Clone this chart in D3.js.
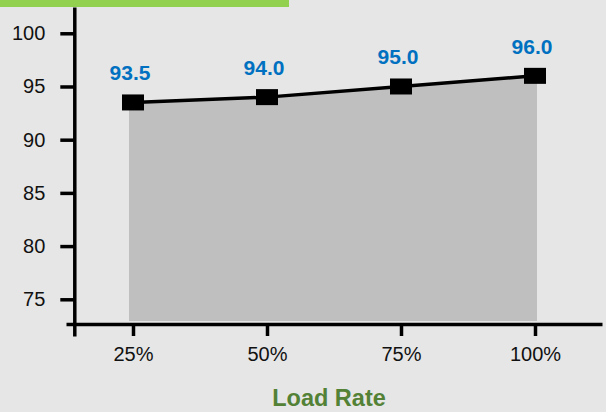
<!DOCTYPE html>
<html>
<head>
<meta charset="utf-8">
<script src="https://cdn.jsdelivr.net/npm/d3@7/dist/d3.min.js"></script>
<style>
  html, body { margin: 0; padding: 0; background: #e6e6e6; }
  svg { display: block; font-family: "Liberation Sans", Arial, sans-serif; }
</style>
</head>
<body>
<svg id="chart" width="606" height="412"></svg>
<script>
// Efficiency at each load rate
const categories = ["25%", "50%", "75%", "100%"];
const efficiency = [93.5, 94.0, 95.0, 96.0];
const yTicks = [75, 80, 85, 90, 95, 100];
const xTitle = "Load Rate";

const svg = d3.select("#chart");
const W = 606, H = 412;

svg.append("rect").attr("width", W).attr("height", H).attr("fill", "#e6e6e6");

// green strip across the top-left
svg.append("rect").attr("x", 0).attr("y", 0).attr("width", 289).attr("height", 7)
  .attr("fill", "#92d050");

const axisY = 324;   // vertical position of the category axis
const axisX = 74.3;  // horizontal position of the value axis

const x = d3.scalePoint().domain(categories).range([66, 602]).padding(0.5);
const y = d3.scaleLinear().domain([71.55, 102.47]).range([336, 7]);

const data = categories.map((c, i) => ({ c, v: efficiency[i] }));
const last = data.length - 1;

// shaded area under the line, widened a little at both ends
const area = d3.area()
  .x((d, i) => x(d.c) + (i === 0 ? -4 : i === last ? 2 : 0))
  .y0(axisY - 3)
  .y1(d => y(d.v));
svg.append("path").datum(data)
  .attr("d", area)
  .attr("fill", "#bfbfbf");

// value axis
const gy = svg.append("g")
  .attr("transform", `translate(${axisX},0)`)
  .call(d3.axisLeft(y).tickValues(yTicks).tickSize(14).tickSizeOuter(0).tickPadding(15)
    .tickFormat(d3.format("d")));
gy.select(".domain").attr("stroke", "#000").attr("stroke-width", 3.5);
gy.selectAll(".tick line").attr("stroke", "#000").attr("stroke-width", 3.5);
gy.selectAll(".tick text").attr("fill", "#111").style("font-size", "20px")
  .style("font-family", "'Liberation Sans', Arial, sans-serif");

// category axis
const gx = svg.append("g")
  .attr("transform", `translate(0,${axisY})`)
  .call(d3.axisBottom(x).tickSize(12).tickSizeOuter(0).tickPadding(11));
gx.select(".domain").attr("stroke", "#000").attr("stroke-width", 3.5);
gx.selectAll(".tick line").attr("stroke", "#000").attr("stroke-width", 3.5);
gx.selectAll(".tick text").attr("fill", "#111").style("font-size", "20px")
  .style("font-family", "'Liberation Sans', Arial, sans-serif");

// efficiency line
const line = d3.line().x(d => x(d.c)).y(d => y(d.v));
svg.append("path").datum(data)
  .attr("d", line)
  .attr("fill", "none")
  .attr("stroke", "#000")
  .attr("stroke-width", 3.5);

// markers
svg.selectAll("rect.marker").data(data).enter().append("rect")
  .attr("class", "marker")
  .attr("x", d => x(d.c) - 11)
  .attr("y", d => y(d.v) - 8)
  .attr("width", 22)
  .attr("height", 16)
  .attr("fill", "#000");

// value labels
svg.selectAll("text.value").data(data).enter().append("text")
  .attr("class", "value")
  .attr("x", d => x(d.c) - 3)
  .attr("y", d => y(d.v) - 22)
  .attr("text-anchor", "middle")
  .attr("fill", "#0070c0")
  .style("font-size", "21px")
  .style("font-weight", "bold")
  .text(d => d.v.toFixed(1));

// axis title
svg.append("text")
  .attr("x", 329)
  .attr("y", 406)
  .attr("text-anchor", "middle")
  .attr("fill", "#538135")
  .style("font-size", "23.5px")
  .style("font-weight", "bold")
  .text(xTitle);
</script>
</body>
</html>
